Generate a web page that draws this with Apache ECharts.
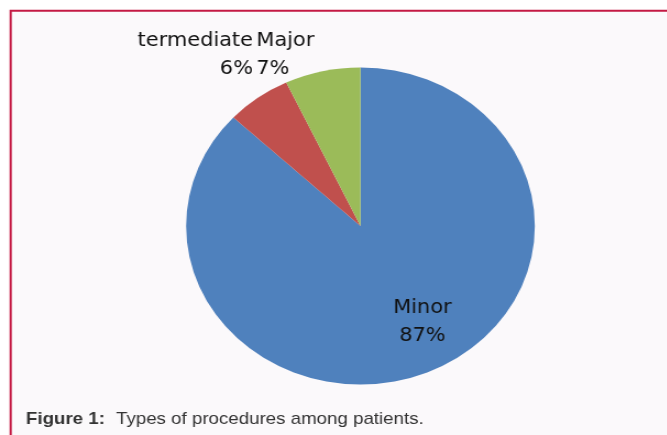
<!DOCTYPE html>
<html>
<head>
<meta charset="utf-8">
<script src="https://cdn.jsdelivr.net/npm/echarts@6/dist/echarts.min.js"></script>
<style>
    html, body { margin: 0; padding: 0; background: #fff; }
    /* the source figure is stretched 10% horizontally, pie and text alike */
    #chart { width: 606px; height: 435px; transform: scaleX(1.1); transform-origin: 0 0; }
</style>
</head>
<body>
<div id="chart"></div>
<script>
    var categories = ['Minor', 'Intermediate', 'Major'];
    var shownNames = ['Minor', 'termediate', 'Major'];   // "In" is cut off in the figure
    var values     = [87, 6, 7];
    var colors     = ['#4f81bd', '#c0504d', '#9bbb59'];

    // label anchor per slice (unscaled px)
    var labelSpots = [
        {x: 384, y: 322, align: 'center'},
        {x: 230, y: 55,  align: 'right'},
        {x: 233, y: 55,  align: 'left'}
    ];

    var chart = echarts.init(document.getElementById('chart'));

    var pieData = categories.map(function(name, i){
        return {name: name, value: values[i], itemStyle: {color: colors[i]}};
    });

    var option = {
        animation: false,
        graphic: [
            {
                type: 'rect', z: -1,
                shape: {x: 9.7, y: 10.7, width: 800, height: 800},
                style: {fill: '#fbf9fb', stroke: '#c41a44', lineWidth: 2}
            },
            {
                type: 'text', left: 23.6, top: 411,
                style: {text: 'Figure 1:', font: 'bold 17px "Liberation Sans", Arial, sans-serif', fill: '#333'}
            },
            {
                type: 'text', left: 105.5, top: 411,
                style: {text: 'Types of procedures among patients.', font: '17px "Liberation Sans", Arial, sans-serif', fill: '#333'}
            }
        ],
        series: [{
            type: 'pie',
            center: [327.7, 226],
            radius: 158.5,
            startAngle: 90,
            clockwise: true,
            avoidLabelOverlap: false,
            data: pieData,
            itemStyle: {borderWidth: 0},
            label: {
                show: true,
                position: 'outside',
                formatter: function(p){
                    return shownNames[p.dataIndex] + '\n' + Math.round(p.percent) + '%';
                },
                fontFamily: '"DejaVu Sans", sans-serif',
                fontSize: 19,
                lineHeight: 28,
                color: '#111'
            },
            labelLine: {show: false},
            labelLayout: function(params){
                var s = labelSpots[params.dataIndex];
                return {x: s.x, y: s.y, align: s.align, verticalAlign: 'middle'};
            },
            emphasis: {disabled: true}
        }]
    };

    chart.setOption(option);
</script>
</body>
</html>
